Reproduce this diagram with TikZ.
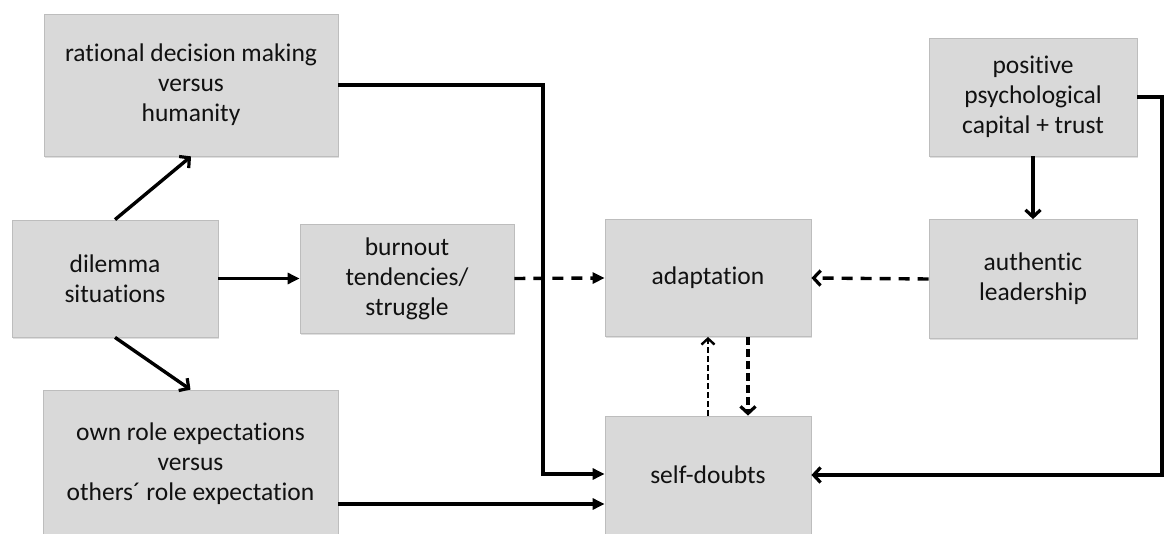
\documentclass[tikz,border=0pt]{standalone}
\usepackage{fontspec}
\setmainfont{Carlito}[Ligatures=NoCommon]
\usetikzlibrary{arrows.meta,shadows}

\tikzset{
  box/.style={rectangle, fill=boxgray, draw=boxedge, line width=0.8pt,
    align=center, text=textdark, inner sep=0pt,
    font=\fontsize{25.5}{30}\selectfont,
    drop shadow={opacity=0.25, shadow xshift=1pt, shadow yshift=-2pt}},
  solidarrow/.style={line width=3.4pt, -{Triangle[length=12pt,width=11pt]}},
  barbarrow/.style={line width=3.4pt, -{Straight Barb[length=7pt,width=15pt,line width=3.2pt]}},
  dashedarrow/.style={line width=3.4pt, dash pattern=on 11pt off 8pt},
  thindashed/.style={line width=2.4pt, dash pattern=on 6pt off 3pt},
}
\definecolor{boxgray}{HTML}{D9D9D9}
\definecolor{boxedge}{HTML}{BDBDBD}
\definecolor{textdark}{HTML}{111111}

\begin{document}
\begin{tikzpicture}[x=1pt,y=-1pt]
  \useasboundingbox (0,0) rectangle (1164,534);
  \clip (0,0) rectangle (1164,534);

  % boxes
  \node[box, minimum width=294pt, minimum height=142pt] (rational) at (191,85)
    {rational decision making\\versus\\humanity};
  \node[box, minimum width=206pt, minimum height=117pt] (dilemma) at (115,278.5)
    {dilemma\\situations};
  \node[box, minimum width=295pt, minimum height=148pt] (own) at (190.5,464)
    {own role expectations\\versus\\others´ role expectation};
  \node[box, minimum width=214pt, minimum height=109pt] (burnout) at (407,278.5)
    {burnout\\tendencies/\\struggle};
  \node[box, minimum width=206pt, minimum height=117pt] (adapt) at (708,278)
    {adaptation};
  \node[box, minimum width=208pt, minimum height=118pt] (positive) at (1033,97)
    {positive\\psychological\\capital + trust};
  \node[box, minimum width=208pt, minimum height=119pt] (authentic) at (1033,279)
    {authentic\\leadership};
  \node[box, minimum width=206pt, minimum height=118pt] (self) at (708,475)
    {self-doubts};

  % connectors on the left
  \draw[barbarrow] (dilemma.north) -- (rational.south);
  \draw[barbarrow] (dilemma.south) -- (own.north);
  \draw[solidarrow] (dilemma.east) -- (burnout.west);
  \draw[dashedarrow, -{Triangle[length=12pt,width=11pt]}] (burnout.east) -- (adapt.west);

  % rational -> self-doubts, routed down the middle
  \coordinate (bend) at (543,85);
  \draw[solidarrow] (rational.east) -- (bend) |- ([yshift=1pt]self.west);
  \draw[solidarrow] (own.east |- 0,504) -- ([yshift=-29pt]self.west);

  % right side
  \draw[barbarrow] (positive.south) -- (authentic.north);
  \draw[dashedarrow, -{Straight Barb[length=7pt,width=15pt,line width=3.2pt]}]
    (authentic.west) -- (adapt.east);
  \coordinate (edge) at (1162,97);
  \draw[barbarrow] (positive.east) -- (edge) |- (self.east);

  % adaptation <-> self-doubts
  \draw[thindashed, -{Straight Barb[length=6pt,width=13pt,line width=2.4pt]}]
    (self.north) -- (adapt.south);
  \draw[dashedarrow, dash pattern=on 8pt off 4pt,
    -{Straight Barb[length=7pt,width=15pt,line width=3.2pt]}]
    ([xshift=40pt]adapt.south) -- ([xshift=40pt]self.north);
\end{tikzpicture}
\end{document}
